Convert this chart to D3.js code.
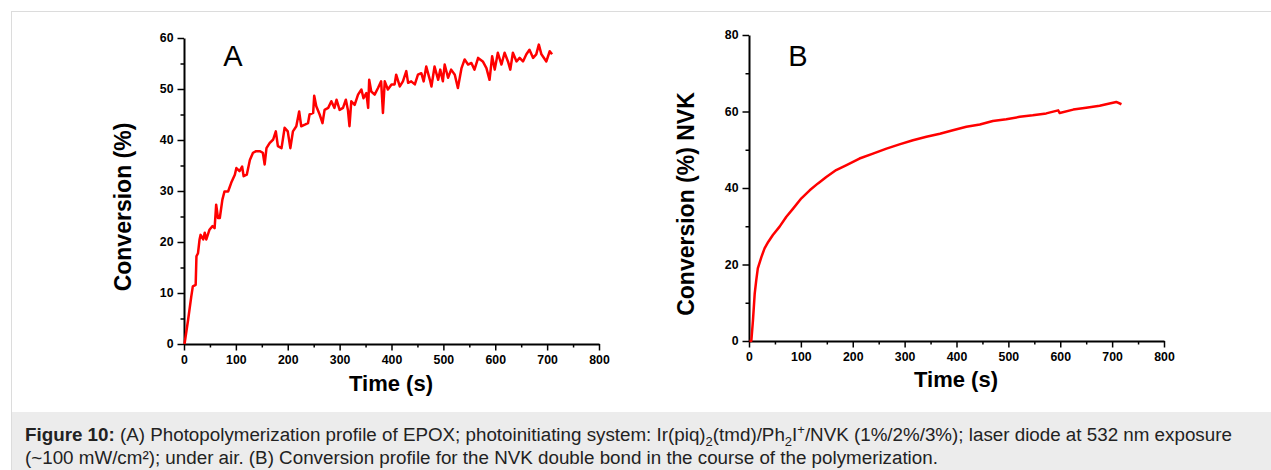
<!DOCTYPE html>
<html>
<head>
<meta charset="utf-8">
<script src="https://cdn.jsdelivr.net/npm/d3@7"></script>
<style>
  body { margin: 0; background: #fff; }
  svg text { font-family: "Liberation Sans", Arial, sans-serif; }
</style>
</head>
<body>
<svg id="fig" width="1271" height="470"></svg>
<script>
// panel A: EPOX conversion (noisy trace)
var timeA = [1, 8, 14, 17, 22.5, 24, 27, 30, 32, 37, 40, 43, 49, 55, 59, 62, 65.5, 69, 74, 78, 85, 91, 98, 101,
    107, 112, 115, 121, 127, 133, 139, 146, 152, 155.5, 159, 165, 172, 177, 181, 188, 194, 200, 205, 210, 216.5,
    222, 226, 233, 239, 242, 249, 251, 255, 261.5, 267, 271, 278, 284, 290, 294, 300, 306.5, 312, 316, 319, 322.5,
    329, 335.5, 342, 346, 351.5, 355, 357, 361, 367.5, 374, 380, 383.5, 387, 393, 400, 406, 409, 416, 422, 428.5,
    432, 438, 445, 451, 457.5, 462, 467, 474, 477, 483, 490, 494, 499, 502.5, 509, 515, 522, 528, 535, 541, 547.5,
    554, 560, 567, 576, 583, 589, 594, 599, 605, 612, 618, 624.5, 629, 634, 641, 647, 653.5, 660, 666, 673, 679,
    684, 689, 698.5, 705, 709.5];
var convA = [0, 4.8, 9.3, 11.3, 11.6, 17.2, 17.8, 20.5, 21.4, 20.5, 21.8, 20.5, 22.4, 23.1, 22.7, 27.3, 24.7, 24.7,
    28.3, 29.9, 29.9, 31.6, 33.2, 34.5, 33.9, 34.8, 32.9, 33.2, 36.1, 37.5, 37.8, 37.8, 37.5, 35.2, 38.4, 39.4, 40.1,
    41.7, 38.8, 38.4, 42.4, 41.7, 38.4, 41.7, 42.7, 45.6, 42.7, 43.0, 43.3, 45.0, 45.3, 48.7, 46.6, 45.0, 43.3, 45.9,
    46.3, 47.6, 46.3, 47.9, 45.9, 46.3, 47.9, 45.9, 42.7, 47.6, 46.9, 48.9, 49.9, 48.2, 49.2, 46.3, 51.8, 49.5, 48.9,
    50.2, 51.5, 45.3, 51.5, 49.9, 50.9, 50.9, 52.8, 50.5, 51.5, 53.5, 51.2, 51.5, 50.9, 52.8, 53.1, 51.5, 54.4, 51.8,
    50.5, 54.4, 51.8, 53.8, 51.5, 54.8, 52.2, 53.8, 52.8, 50.2, 54.1, 55.8, 54.8, 55.1, 53.8, 56.1, 55.4, 54.1, 51.8,
    56.4, 53.8, 57.1, 54.8, 57.1, 55.4, 53.8, 57.1, 55.4, 56.1, 55.4, 56.8, 57.7, 56.1, 56.8, 58.7, 56.8, 55.4, 57.4,
    56.8];

// panel B: NVK double bond conversion
var timeB = [1, 4.5, 7.7, 11, 14, 17, 24, 30, 37, 46, 59, 72, 85, 101, 117, 133, 149, 168, 188, 213, 239, 265, 290,
    316, 342, 368, 393, 419, 445, 470, 496, 522, 547, 573, 596, 599, 625, 650, 676, 695, 708, 718];
var convB = [0, 0, 5.5, 12.4, 15.9, 19, 22, 24.2, 25.9, 27.7, 29.9, 32.5, 34.6, 37.3, 39.4, 41.2, 42.9, 44.7, 46.0,
    47.7, 49.0, 50.3, 51.4, 52.5, 53.4, 54.2, 55.1, 56.0, 56.6, 57.5, 58.0, 58.6, 59.0, 59.5, 60.3, 59.6, 60.5, 61.0,
    61.5, 62.1, 62.5, 61.9];

var xTicks = [0, 100, 200, 300, 400, 500, 600, 700, 800];
var xMinor = [50, 150, 250, 350, 450, 550, 650, 750];
var yTicksA = [0, 10, 20, 30, 40, 50, 60];
var yMinorA = [5, 15, 25, 35, 45, 55];
var yTicksB = [0, 20, 40, 60, 80];
var yMinorB = [10, 30, 50, 70];

var svg = d3.select("#fig");

// figure frame + caption strip
svg.append("rect").attr("x", 11.5).attr("y", 11.5).attr("width", 1300).attr("height", 500)
    .attr("fill", "#fff").attr("stroke", "#dcdcdc").attr("stroke-width", 1);
svg.append("rect").attr("x", 12).attr("y", 412).attr("width", 1300).attr("height", 70).attr("fill", "#ececec");

function drawPanel(opt) {
    var x = d3.scaleLinear().domain([0, 800]).range([opt.left, opt.left + 415]);
    var y = d3.scaleLinear().domain([0, opt.ymax]).range([opt.bottom, opt.bottom - 306]);
    var g = svg.append("g");

    // minor ticks
    g.append("g").attr("transform", "translate(0," + opt.bottom + ")")
        .call(d3.axisBottom(x).tickValues(xMinor).tickSize(3.5).tickSizeOuter(0).tickFormat(""))
        .call(s => s.select(".domain").remove());
    g.append("g").attr("transform", "translate(" + opt.left + ",0)")
        .call(d3.axisLeft(y).tickValues(opt.yMinor).tickSize(3.5).tickSizeOuter(0).tickFormat(""))
        .call(s => s.select(".domain").remove());

    var xa = g.append("g").attr("transform", "translate(0," + opt.bottom + ")")
        .call(d3.axisBottom(x).tickValues(xTicks).tickSize(6.5).tickSizeOuter(0).tickPadding(5));
    var ya = g.append("g").attr("transform", "translate(" + opt.left + ",0)")
        .call(d3.axisLeft(y).tickValues(opt.yTicks).tickSize(6.5).tickSizeOuter(0).tickPadding(4));

    g.selectAll(".tick line").attr("stroke", "#000").attr("stroke-width", 1.5);
    [xa, ya].forEach(a => {
        a.select(".domain").attr("stroke", "#000").attr("stroke-width", 2);
        a.selectAll("text").attr("font-family", "Liberation Sans, Arial, sans-serif")
            .attr("font-size", 12.3).attr("font-weight", "bold").attr("fill", "#000");
    });

    var line = d3.line().x((d, i) => x(opt.t[i])).y(d => y(d));
    g.append("path").datum(opt.v).attr("d", line)
        .attr("fill", "none").attr("stroke", "#ff0000").attr("stroke-width", 2.5)
        .attr("stroke-linejoin", "round");

    g.append("text").attr("x", opt.left + 207).attr("y", opt.xtitleY)
        .attr("text-anchor", "middle").attr("font-size", 22).attr("font-weight", "bold")
        .text("Time (s)");
    g.append("text").attr("transform", "translate(" + opt.ytitleX + "," + (opt.bottom - 137) + ") rotate(-90)")
        .attr("text-anchor", "middle").attr("font-size", 23).attr("font-weight", "bold")
        .text(opt.ytitle);
    g.append("text").attr("x", opt.left + 49).attr("y", 66)
        .attr("text-anchor", "middle").attr("font-size", 29)
        .text(opt.label);
}

drawPanel({ left: 184, bottom: 344, ymax: 60, yTicks: yTicksA, yMinor: yMinorA, t: timeA, v: convA,
    ytitle: "Conversion (%)", ytitleX: 131, xtitleY: 391, label: "A" });
drawPanel({ left: 749, bottom: 341, ymax: 80, yTicks: yTicksB, yMinor: yMinorB, t: timeB, v: convB,
    ytitle: "Conversion (%) NVK", ytitleX: 694, xtitleY: 387, label: "B" });

// caption
var cap = svg.append("text").attr("x", 25).attr("y", 441).attr("font-size", 18.8).attr("fill", "#222");
cap.append("tspan").attr("font-weight", "bold").text("Figure 10:");
cap.append("tspan").text(" (A) Photopolymerization profile of EPOX; photoinitiating system: Ir(piq)");
cap.append("tspan").attr("font-size", 13).attr("dy", 5).text("2");
cap.append("tspan").attr("dy", -5).text("(tmd)/Ph");
cap.append("tspan").attr("font-size", 13).attr("dy", 5).text("2");
cap.append("tspan").attr("dy", -5).text("I");
cap.append("tspan").attr("font-size", 13).attr("dy", -7).text("+");
cap.append("tspan").attr("dy", 7).text("/NVK (1%/2%/3%); laser diode at 532 nm exposure");
svg.append("text").attr("x", 25).attr("y", 464).attr("font-size", 18.8).attr("fill", "#222")
    .text("(~100 mW/cm²); under air. (B) Conversion profile for the NVK double bond in the course of the polymerization.");
</script>
</body>
</html>
